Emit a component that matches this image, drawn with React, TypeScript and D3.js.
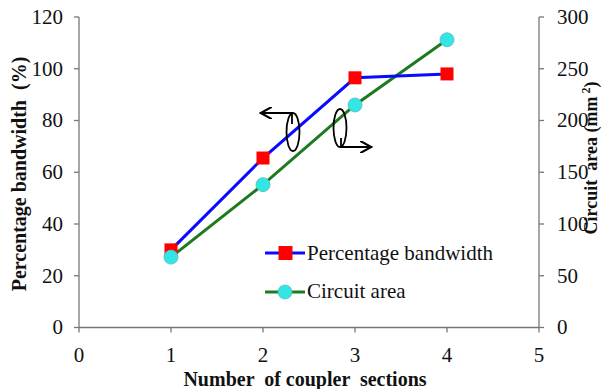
import React from "react";
import { scaleLinear, line } from "d3";

const sections = [1, 2, 3, 4];
const bandwidth = [30, 65.5, 96.5, 98];
const area = [68, 138, 215, 278];
const xTicks = [0, 1, 2, 3, 4, 5];
const leftTicks = [0, 20, 40, 60, 80, 100, 120];
const rightTicks = [0, 50, 100, 150, 200, 250, 300];

const FONT = "Liberation Serif";

export default function App() {
  const width = 611,
    height = 389;
  const x = scaleLinear().domain([0, 5]).range([79, 539]);
  const yL = scaleLinear().domain([0, 120]).range([327.5, 17]);
  const yR = scaleLinear().domain([0, 300]).range([327.5, 17]);

  const bwLine = line<number>()
    .x((_, i) => x(sections[i]))
    .y((d) => yL(d));
  const arLine = line<number>()
    .x((_, i) => x(sections[i]))
    .y((d) => yR(d));

  const axisColor = "#777";

  return (
    <svg
      width={width}
      height={height}
      style={{ position: "absolute", left: 0, top: 0, background: "#fff" }}
    >
      <defs>
        <marker id="ah" viewBox="0 0 10 10" refX="8" refY="5" markerWidth="7" markerHeight="7" orient="auto-start-reverse">
          <path d="M0,0 L9,5 L0,10" fill="none" stroke="#000" strokeWidth="1.6" />
        </marker>
      </defs>
      <g fontFamily={FONT} fill="#111">
        {/* axes */}
        <line x1={x(0)} x2={x(5)} y1={yL(0)} y2={yL(0)} stroke={axisColor} strokeWidth={1.3} />
        <line x1={x(0)} x2={x(0)} y1={yL(0)} y2={yL(120)} stroke={axisColor} strokeWidth={1.3} />
        <line x1={x(5)} x2={x(5)} y1={yR(0)} y2={yR(300)} stroke={axisColor} strokeWidth={1.3} />
        {xTicks.map((t) => (
          <g key={"x" + t}>
            <line x1={x(t)} x2={x(t)} y1={yL(0)} y2={yL(0) + 5} stroke={axisColor} strokeWidth={1.3} />
            <text x={x(t)} y={yL(0) + 34} textAnchor="middle" fontSize={21}>
              {t}
            </text>
          </g>
        ))}
        {leftTicks.map((t) => (
          <g key={"l" + t}>
            <line x1={x(0) - 5} x2={x(0)} y1={yL(t)} y2={yL(t)} stroke={axisColor} strokeWidth={1.3} />
            <text x={x(0) - 16} y={yL(t)} dy="0.33em" textAnchor="end" fontSize={21}>
              {t}
            </text>
          </g>
        ))}
        {rightTicks.map((t) => (
          <g key={"r" + t}>
            <line x1={x(5)} x2={x(5) + 5} y1={yR(t)} y2={yR(t)} stroke={axisColor} strokeWidth={1.3} />
            <text x={x(5) + 18} y={yR(t)} dy="0.33em" textAnchor="start" fontSize={21}>
              {t}
            </text>
          </g>
        ))}
        {/* axis titles */}
        <text x={305} y={386} textAnchor="middle" fontSize={20} fontWeight="bold" style={{ whiteSpace: "pre" }}>
          {"Number  of coupler  sections"}
        </text>
        <text transform="translate(26,174) rotate(-90)" textAnchor="middle" fontSize={20} fontWeight="bold" style={{ whiteSpace: "pre" }}>
          {"Percentage bandwidth  (%)"}
        </text>
        <text transform="translate(597,158) rotate(-90)" textAnchor="middle" fontSize={18} fontWeight="bold" style={{ whiteSpace: "pre" }}>
          {"Circuit  area (mm"}
          <tspan fontSize={12} dy={-7}>{" 2"}</tspan>
          <tspan dy={7}>)</tspan>
        </text>
      </g>
      {/* series */}
      <path d={arLine(area) ?? ""} fill="none" stroke="#1e7a1e" strokeWidth={3} />
      <path d={bwLine(bandwidth) ?? ""} fill="none" stroke="#0a0aff" strokeWidth={3} />
      {bandwidth.map((v, i) => (
        <rect key={"b" + i} x={x(sections[i]) - 6.5} y={yL(v) - 6.5} width={13} height={13} fill="#ff0000" />
      ))}
      {area.map((v, i) => (
        <circle key={"a" + i} cx={x(sections[i])} cy={yR(v)} r={7} fill="#33e6e6" stroke="#5bb" strokeWidth={0.8} />
      ))}
      {/* axis indicators */}
      <ellipse cx={293} cy={132} rx={6.5} ry={19} fill="none" stroke="#000" strokeWidth={1.8} />
      <path d="M292,124 L292,113 L262,113" fill="none" stroke="#000" strokeWidth={1.8} markerEnd="url(#ah)" />
      <ellipse cx={340} cy={128} rx={6.5} ry={19} fill="none" stroke="#000" strokeWidth={1.8} />
      <path d="M341,138 L341,147 L370,147" fill="none" stroke="#000" strokeWidth={1.8} markerEnd="url(#ah)" />
      {/* legend */}
      <g fontFamily={FONT} fill="#111">
        <line x1={265} x2={305} y1={253} y2={253} stroke="#0a0aff" strokeWidth={3} />
        <rect x={278.5} y={246} width={14} height={14} fill="#ff0000" />
        <text x={307} y={260} fontSize={21}>
          Percentage bandwidth
        </text>
        <line x1={265} x2={305} y1={292} y2={292} stroke="#1e7a1e" strokeWidth={3} />
        <circle cx={285} cy={292} r={7} fill="#33e6e6" stroke="#5bb" strokeWidth={0.8} />
        <text x={307} y={298} fontSize={21}>
          Circuit area
        </text>
      </g>
    </svg>
  );
}
